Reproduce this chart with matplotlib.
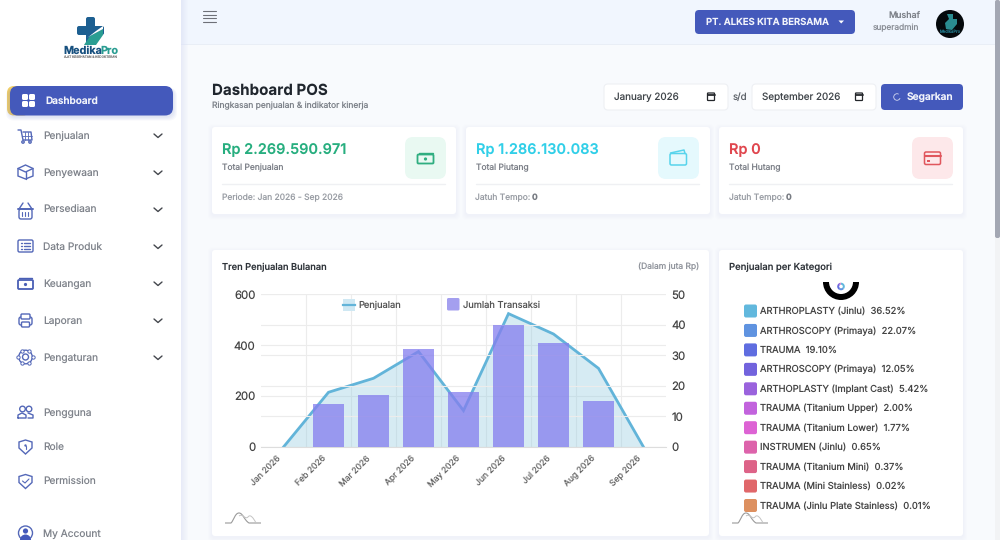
import numpy as np
import matplotlib
matplotlib.use('Agg')
import matplotlib.pyplot as plt
from matplotlib.patches import FancyBboxPatch, Rectangle, Circle, Wedge, Polygon, PathPatch
from matplotlib.path import Path
from matplotlib.transforms import ScaledTranslation

plt.rcParams['font.family'] = ['Inter', 'DejaVu Sans']
plt.rcParams['text.hinting'] = 'no_hinting'
plt.rcParams['text.hinting_factor'] = 1

months = ['Jan 2026', 'Feb 2026', 'Mar 2026', 'Apr 2026', 'May 2026', 'Jun 2026', 'Jul 2026', 'Aug 2026', 'Sep 2026']
penjualan = [0, 215, 270, 375, 143, 524, 444, 309, 0]
transaksi = [0, 14, 17, 32, 18, 40, 34, 15, 0]

kategori = ['ARTHROPLASTY (Jinlu)', 'ARTHROSCOPY (Primaya)', 'TRAUMA', 'ARTHROSCOPY (Primaya)',
            'ARTHOPLASTY (Implant Cast)', 'TRAUMA (Titanium Upper)', 'TRAUMA (Titanium Lower)',
            'INSTRUMEN (Jinlu)', 'TRAUMA (Titanium Mini)', 'TRAUMA (Mini Stainless)', 'TRAUMA (Jinlu Plate Stainless)']
persen = [36.52, 22.07, 19.10, 12.05, 5.42, 2.00, 1.77, 0.65, 0.37, 0.02, 0.01]
warna = ['#62b8dd', '#5f93e0', '#5f6de0', '#7263dd', '#9a63dd', '#c263dd', '#dd63d4', '#dd63ab', '#dd6388', '#e0676a', '#dd9060']

menu_atas = [('Penjualan', 135), ('Penyewaan', 172), ('Persediaan', 209), ('Data Produk', 246),
             ('Keuangan', 283), ('Laporan', 320), ('Pengaturan', 357)]
menu_bawah = [('Pengguna', 412), ('Role', 446), ('Permission', 481), ('My Account', 533)]

BLUE = '#4459bb'
ICON = '#5468b8'
GREY = '#7f838b'

fig = plt.figure(figsize=(10, 5.4), dpi=100)
bg = fig.add_axes([0, 0, 1, 1], zorder=0)
bg.set_xlim(0, 1000)
bg.set_ylim(540, 0)
bg.axis('off')


def box(x0, y0, x1, y1, color, r=0, **kw):
    if r:
        p = FancyBboxPatch((x0, y0), x1 - x0, y1 - y0, boxstyle=f'round,pad=0,rounding_size={r}',
                           fc=color, ec=kw.pop('ec', 'none'), lw=kw.pop('lw', 0.8), **kw)
    else:
        p = Rectangle((x0, y0), x1 - x0, y1 - y0, fc=color, ec='none', **kw)
    bg.add_patch(p)
    return p


def card(x0, y0, x1, y1):
    for i in range(4, 0, -1):
        box(x0 - i, y0 - i + 1.5, x1 + i, y1 + i + 1.5, '#8090b0', r=4, alpha=0.012)
    box(x0, y0, x1, y1, 'white', r=3)


def txt(x, y, s, size=7.2, color='#444444', weight='normal', ha='left', **kw):
    bg.text(x, y + 0.7, s, fontsize=size, color=color, fontweight=weight, ha=ha, va='center', **kw)


def line(xs, ys, color=ICON, lw=1.0, **kw):
    bg.plot(xs, ys, color=color, lw=lw, solid_capstyle='round', **kw)


def ring(x, y, r, color=ICON, lw=1.0, fc='none'):
    bg.add_patch(Circle((x, y), r, fc=fc, ec=color, lw=lw))


def outline(x0, y0, x1, y1, color=ICON, r=1.5, lw=1.0, fc='none'):
    bg.add_patch(FancyBboxPatch((x0, y0), x1 - x0, y1 - y0, boxstyle=f'round,pad=0,rounding_size={r}',
                                fc=fc, ec=color, lw=lw))


def money(x, y, color, w=8, h=5):
    outline(x - w, y - h + 1, x + w, y + h, color, r=1, lw=1.3)
    line([x - w + 1, x + w - 1], [y - h - 1, y - h - 1], color, 1)
    bg.add_patch(Circle((x, y + 0.5), 1.6, fc=color, ec='none'))


def hills(x, y):
    # little grey logo under both cards
    verts = [(x, y), (x + 6, y), (x + 9, y - 3), (x + 10, y - 10), (x + 14, y - 10),
             (x + 18, y - 10), (x + 19, y - 3), (x + 24, y), (x + 36, y)]
    codes = [Path.MOVETO, Path.LINETO] + [Path.CURVE4] * 6 + [Path.LINETO]
    bg.add_patch(PathPatch(Path(verts, codes), fc='none', ec='#9a9a9a', lw=0.8))
    verts = [(x + 14, y - 7), (x + 18, y - 10), (x + 20, y - 3), (x + 23, y - 6),
             (x + 25, y - 9), (x + 28, y - 6), (x + 31, y)]
    codes = [Path.MOVETO] + [Path.CURVE4] * 6
    bg.add_patch(PathPatch(Path(verts, codes), fc='none', ec='#c4c4c4', lw=0.7))


# backgrounds
box(0, 0, 1000, 540, '#f8fafd')
box(181, 0, 1000, 44, '#f1f6fe')
box(181, 44, 1000, 45, '#e9eef6')
for i in range(8):
    box(181, 0, 181 + i, 540, '#d8dcf8', alpha=0.07)
box(0, 0, 181, 540, 'white')
box(995, 0, 1000, 540, '#f2f3f5')
box(995, 0, 1000, 238, '#a3a7b3', r=2)

# sidebar logo
box(86, 17, 95, 45, '#1d5f91', r=2)
box(77, 26, 104, 35, '#1d5f91', r=2)
bg.add_patch(Polygon([(84, 45), (90, 36), (103, 29), (103, 35), (96, 45)], fc='#2a9d92', ec='none'))
bg.add_patch(Polygon([(87, 38), (96, 31), (103, 26), (103, 29), (90, 36)], fc='white', ec='none'))
bg.text(63, 50.5, 'Medika', fontsize=7.8, color='#17507f', fontweight='bold', ha='left', va='center')
bg.text(100.5, 50.5, 'Pro', fontsize=7.8, color='#2a9d92', fontweight='bold', ha='left', va='center')
txt(90, 56.5, 'ALAT KESEHATAN & KEDOKTERAN', size=2.3, color='#777777', ha='center')

# active menu
box(7, 86, 30, 115.5, '#f1cf68', r=7)
for i in range(4, 0, -1):
    box(10 - i, 86 + 2, 173 + i, 115.5 + i + 1, '#4459bb', r=8, alpha=0.04)
box(10, 86, 173, 115.5, BLUE, r=8)
for gx, gy in [(22, 94), (29, 94), (22, 101), (29, 101)]:
    box(gx, gy, gx + 6, gy + 6, 'white', r=1.5)
txt(45.5, 100, 'Dashboard', size=7.2, color='#f2f4fb', weight='semibold')

for label, y in menu_atas + menu_bawah:
    txt(42.8, y + 0.4, label, size=7.3, color=GREY)
for label, y in menu_atas:
    line([154, 158, 162], [y - 1, y + 2.5, y - 1], '#44474d', 1.0)

# sidebar icons
line([18, 21, 23, 32, 31, 23], [130, 130, 140, 140, 132, 132], ICON, 1)
for xx in (25, 28):
    line([xx, xx], [132, 140], ICON, 0.6)
line([22, 32], [136, 136], ICON, 0.6)
ring(23, 142, 1.2)
ring(30, 142, 1.2)
bg.add_patch(Polygon([(25.5, 165), (33, 168.5), (33, 176), (25.5, 179), (18, 176), (18, 168.5)], fc='none', ec=ICON, lw=1))
line([18, 25.5, 33], [168.5, 172, 168.5])
line([25.5, 25.5], [172, 179])
outline(19, 209, 32, 219, ICON, r=2)
line([19, 23], [209, 203])
line([32, 28], [209, 203])
line([18, 33], [209, 209], ICON, 1.4)
for xx in (22, 25, 28):
    line([xx, xx], [212, 216], ICON, 0.8)
outline(18, 240, 33, 252, ICON, r=1.5)
for yy in (243, 246, 249):
    line([21, 22], [yy, yy])
    line([24, 30], [yy, yy])
money(25.5, 284, '#4a5fb5', w=7.5, h=5)
outline(19, 317, 32, 325, ICON, r=2)
outline(21, 314, 30, 319, ICON, r=1, fc='white')
outline(21.5, 322, 29.5, 327, ICON, r=1, fc='white')
ring(25.5, 357, 3)
ring(25.5, 357, 6.8)
for a in np.arange(0, 360, 60):
    bg.plot(25.5 + 7.2 * np.cos(np.radians(a)), 357 + 7.2 * np.sin(np.radians(a)), 'o', ms=2.4, color='white', mec=ICON, mew=0.7)
ring(22.5, 409, 2.8)
ring(29, 409, 2.8)
line([18, 18, 22, 26, 26, 18], [418, 415, 413, 415, 418, 418])
line([28, 33, 33, 28], [413, 415, 418, 418])
shield = [(25.5, 440), (32, 442), (32, 448), (25.5, 454), (19, 448), (19, 442)]
bg.add_patch(Polygon(shield, fc='none', ec=ICON, lw=1))
bg.add_patch(Circle((25.5, 445.5), 1.2, fc=ICON, ec='none'))
line([25.5, 25.5], [446, 449], ICON, 0.8)
bg.add_patch(Polygon([(x, y + 34.5) for x, y in shield], fc='none', ec=ICON, lw=1))
line([22.5, 25, 29], [481, 483, 479], ICON, 0.8)
ring(25.5, 533, 7)
bg.add_patch(Circle((25.5, 531), 2.6, fc=BLUE, ec='none'))
bg.add_patch(Wedge((25.5, 540), 5.5, 180, 360, fc=BLUE, ec='none'))

# top bar
for yy in (11, 14.5, 18, 21.5):
    line([203, 216], [yy, yy], '#6e7078', 0.8)
box(695, 10, 855, 34, BLUE, r=4)
txt(706, 21.5, 'PT. ALKES KITA BERSAMA', size=6.85, color='#f2f4fb', weight='semibold')
bg.add_patch(Polygon([(838.5, 20.5), (844, 20.5), (841.2, 23.5)], fc='white', ec='none'))
txt(920, 15, 'Mushaf', size=6.4, color='#7c8088', ha='right', weight='medium')
txt(919.5, 27.5, 'superadmin', size=6.0, color='#8a8e96', ha='right')
bg.add_patch(Circle((950, 24), 14, fc='#05090c', ec='none'))
bg.add_patch(Polygon([(947, 14), (953, 14), (953, 19), (957, 19), (957, 24), (952, 30), (946, 29), (945, 23), (949, 19)], fc='#2a8c90', ec='none'))
txt(950, 31, 'MedikaPro', size=3, color='#1f6f80', ha='center')

# page heading
txt(212, 90, 'Dashboard POS', size=10.9, color='#20262e', weight='bold')
txt(212, 105, 'Ringkasan penjualan & indikator kinerja', size=6.1, color='#7d828a')

for x0, x1, s, tx in [(604, 728, 'January 2026', 614), (752, 876, 'September 2026', 762.5)]:
    box(x0, 84, x1, 110, 'white', r=4, ec='#eef0f4')
    txt(tx, 96.5, s, size=7.1, color='#3f4449')
    cx = x1 - 17
    outline(cx - 3.5, 93, cx + 3.5, 100.5, '#24272b', r=0.6, lw=0.9)
    line([cx - 3.5, cx + 3.5], [94.5, 94.5], '#24272b', 1.3)
txt(740, 96.5, 's/d', size=7.0, color='#5c6168', ha='center')
box(881, 84, 963, 110, BLUE, r=4)
bg.add_patch(Wedge((897, 97), 3.6, 20, 300, width=0.7, fc='#eef0fa', ec='none'))
txt(907, 96.5, 'Segarkan', size=7.3, color='#f2f4fb', weight='semibold')

# stat cards
stat = [(212, 456, 'Rp 2.269.590.971', '#27ae7f', 'Total Penjualan', '#e9f9f2', 405),
        (466, 710, 'Rp 1.286.130.083', '#31cfe8', 'Total Piutang', '#e5f9fd', 658),
        (719, 963, 'Rp 0', '#e0474f', 'Total Hutang', '#fde8ea', 912)]
for x0, x1, val, col, label, tint, ix in stat:
    card(x0, 127, x1, 214)
    txt(x0 + 10, 149.5, val, size=10.45, color=col, weight='semibold')
    txt(x0 + 10, 167.5, label, size=6.1, color='#7c8088')
    line([x0 + 10, x1 - 11], [183.5, 183.5], '#eff0f3', 1)
    box(ix, 137, ix + 41, 179, tint, r=8)
txt(222, 197, 'Periode: Jan 2026 - Sep 2026', size=6.1, color='#9a9ea5')
txt(475, 197, 'Jatuh Tempo:', size=6.1, color='#9a9ea5')
txt(532, 197, '0', size=6.1, color='#777b82', weight='bold')
txt(729, 197, 'Jatuh Tempo:', size=6.1, color='#9a9ea5')
txt(786, 197, '0', size=6.1, color='#777b82', weight='bold')
money(425.5, 158.5, '#2fae80', w=8, h=5)
outline(670, 153.5, 686.5, 165, '#58d4ec', r=1.5, lw=1.1)
line([670.5, 684, 685], [153, 150, 153.5], '#58d4ec', 1.1)
outline(924.5, 152, 940.5, 164.5, '#e0565d', r=1.5, lw=1.1)
line([924.5, 940.5], [156, 156], '#e0565d', 1.5)
box(927, 160, 929.5, 162, '#e0565d')

# chart cards
card(212, 250, 709, 536)
card(719, 250, 963, 536)
txt(222, 266.5, 'Tren Penjualan Bulanan', size=6.7, color='#2f343a', weight='medium')
txt(699, 266.5, '(Dalam juta Rp)', size=6.1, color='#8f939b', ha='right')
txt(729, 266.5, 'Penjualan per Kategori', size=6.85, color='#2f343a', weight='medium')
hills(225, 523)
hills(732, 523)

# main chart
ax = fig.add_axes([261 / 1000, 1 - 447 / 540, 405 / 1000, 152.7 / 540], zorder=2)
ax.patch.set_alpha(0)
pos = np.arange(len(months))
ax.plot(pos, penjualan, color='#62b4d9', lw=2, solid_joinstyle='miter')
ax.fill_between(pos, penjualan, 0, color='#8cc8df', alpha=0.35, lw=0)
ax.set_xlim(-0.5, 8.5)
ax.set_ylim(0, 600)
ax.set_yticks([0, 200, 400, 600])
ax.set_xticks(pos)
ax.set_xticks(pos[:-1] + 0.5, minor=True)
ax.tick_params(axis='x', which='both', length=0, pad=5)
ax.tick_params(axis='y', length=0, pad=4, labelsize=8.2, labelcolor='#444444')
ax.set_xticklabels(months, rotation=45, ha='right', rotation_mode='anchor', fontsize=6.2, color='#666666')
ax.grid(True, axis='x', which='minor', color='#ececec', lw=0.8)
ax.grid(True, axis='y', color='#ececec', lw=0.8)
ax.set_axisbelow(True)
for side in ('top', 'right', 'left'):
    ax.spines[side].set_visible(False)
ax.spines['bottom'].set_color('#dddddd')
shift = ScaledTranslation(-0.07, 0, fig.dpi_scale_trans)
for lab in ax.get_xticklabels():
    lab.set_transform(lab.get_transform() + shift)

ax2 = ax.twinx()
ax2.set_zorder(3)
ax2.patch.set_alpha(0)
ax2.bar(pos, transaksi, width=0.7, color='#857eee', alpha=0.76, lw=0)
ax2.set_ylim(0, 50)
ax2.set_yticks([0, 10, 20, 30, 40, 50])
ax2.tick_params(axis='y', length=0, pad=4, labelsize=8.2, labelcolor='#444444')
ax2.grid(True, axis='y', color='#ececec', lw=0.8)
ax2.set_axisbelow(True)
for side in ax2.spines:
    ax2.spines[side].set_visible(False)

# legend of the main chart, sits above the chart axes
lg = fig.add_axes([0, 0, 1, 1], zorder=4)
lg.set_xlim(0, 1000)
lg.set_ylim(540, 0)
lg.axis('off')
lg.add_patch(Rectangle((343, 299), 12, 12, fc='#cfe8f3', ec='none'))
lg.plot([343, 355], [304.5, 304.5], color='#62b4d9', lw=1.6)
lg.text(358, 305, 'Penjualan', fontsize=6.7, color='#555555', va='center')
lg.add_patch(FancyBboxPatch((447, 298), 12.5, 12.5, boxstyle='round,pad=0,rounding_size=1.5', fc='#a49fef', ec='none'))
lg.text(463, 305, 'Jumlah Transaksi', fontsize=6.7, color='#555555', va='center')

# doughnut and its legend
bg.add_patch(Wedge((841, 282), 18, 0, 180, width=6, fc='black', ec='none'))
pie = fig.add_axes([(841 - 5) / 1000, 1 - (286.5 + 5) / 540, 10 / 1000, 10 / 540], zorder=2)
pie.pie(persen, colors=warna, startangle=90, counterclock=False, radius=0.95,
        wedgeprops={'width': 0.5, 'lw': 0})

for i, (nama, p, c) in enumerate(zip(kategori, persen, warna)):
    yy = 311 + i * 19.45
    box(744, yy - 6.5, 757, yy + 6.5, c, r=2)
    txt(760, yy - 0.3, f'{nama}  {p:.2f}%', size=6.75, color='#444444')

fig.savefig('out.png', dpi=100)
